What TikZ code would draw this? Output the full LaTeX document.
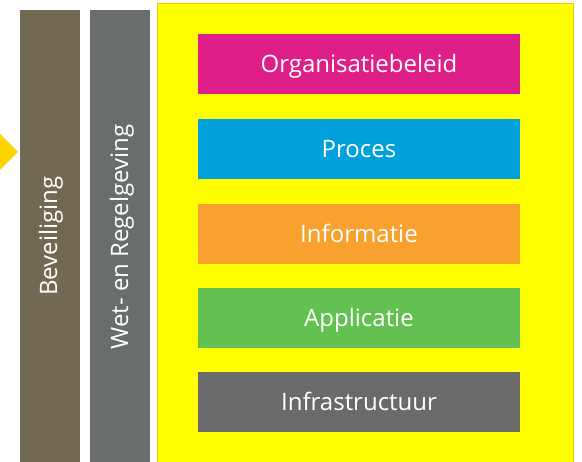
\documentclass[tikz,border=0pt]{standalone}
\usepackage{fontspec}
\setmainfont{Open Sans}
\definecolor{bevcol}{HTML}{716951}
\definecolor{wetcol}{HTML}{696D6E}
\definecolor{ylw}{HTML}{FFFF00}
\definecolor{ylwborder}{HTML}{FFC000}
\definecolor{arrowcol}{HTML}{FFD200}
\definecolor{orgcol}{HTML}{DF1F87}
\definecolor{proccol}{HTML}{00A0DC}
\definecolor{infocol}{HTML}{F9A12E}
\definecolor{appcol}{HTML}{62C150}
\definecolor{infracol}{HTML}{6A6A6A}
\tikzset{
  lbl/.style={text=white, inner sep=0pt, font=\fontsize{24}{28}\selectfont},
  layer/.style={lbl, draw=none, minimum width=322pt, minimum height=60pt, text height=17pt, text depth=0pt},
  pillar/.style={draw=none, minimum width=60pt, minimum height=452pt, inner sep=0pt},
}
\begin{document}
\begin{tikzpicture}[x=1pt,y=-1pt]
\useasboundingbox (0,0) rectangle (582,462);
\fill[arrowcol] (-18,152) -- (0,134) -- (18,152) -- (0,170) -- cycle;
\node[pillar, fill=bevcol, anchor=north west] (bev) at (20,10) {};
\node[lbl, rotate=90] (bevt) at (51,236) {Beveiliging};
\node[pillar, fill=wetcol, anchor=north west] (wet) at (90,10) {};
\node[lbl, rotate=90] (wett) at (122,237) {Wet- en Regelgeving};
\node[draw=ylwborder, line width=1pt, fill=ylw, minimum width=416pt, minimum height=470pt, anchor=north west, inner sep=0pt] (frame) at (157,3) {};
\node[layer, fill=orgcol] (org) at (359,64) {Organisatiebeleid};
\node[layer, fill=proccol] (proc) at (359,149) {Proces};
\node[layer, fill=infocol] (info) at (359,234) {Informatie};
\node[layer, fill=appcol] (app) at (359,318) {Applicatie};
\node[layer, fill=infracol] (infra) at (359,402.5) {Infrastructuur};
\end{tikzpicture}
\end{document}
